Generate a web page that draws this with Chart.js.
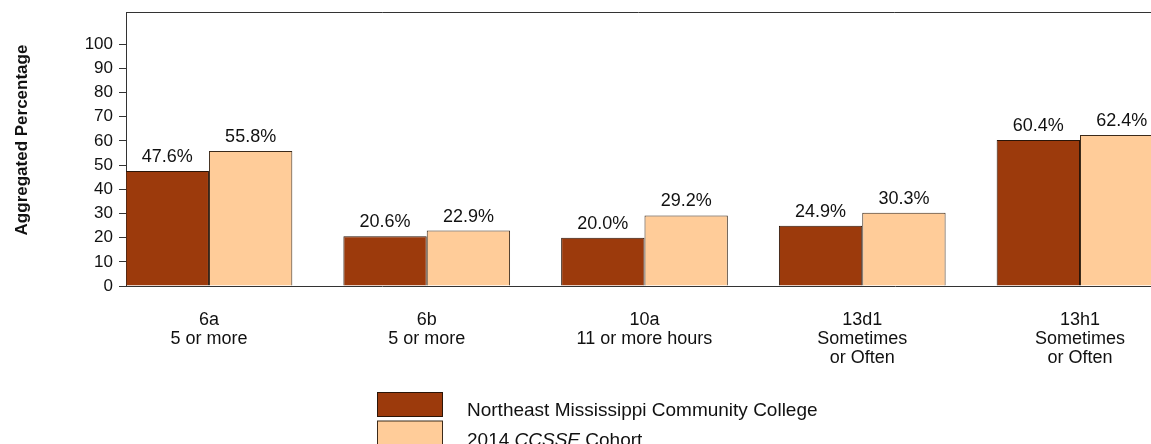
<!DOCTYPE html>
<html>
<head>
<meta charset="utf-8">
<title>Aggregated Percentage</title>
<script src="https://cdn.jsdelivr.net/npm/chart.js@4/dist/chart.umd.min.js"></script>
<style>
    html, body { margin: 0; padding: 0; background: #fff; overflow: hidden; }
    #wrap { width: 1151px; height: 444px; }
</style>
</head>
<body>
<div id="wrap"><canvas id="barChart" width="1151" height="444"></canvas></div>
<script>
// Chart data
const categories = [
    ['6a', '5 or more'],
    ['6b', '5 or more'],
    ['10a', '11 or more hours'],
    ['13d1', 'Sometimes', 'or Often'],
    ['13h1', 'Sometimes', 'or Often']
];
const collegeValues = [47.6, 20.6, 20.0, 24.9, 60.4];
const cohortValues = [55.8, 22.9, 29.2, 30.3, 62.4];
const yTicks = [0, 10, 20, 30, 40, 50, 60, 70, 80, 90, 100];
const collegeLabel = 'Northeast Mississippi Community College';
const cohortLabel = ['2014 ', 'CCSSE', ' Cohort']; // middle part is italic
const yTitle = 'Aggregated Percentage';

const FONT = 'Arial, "Liberation Sans", Helvetica, sans-serif';
const AXIS = '#333';

function toPoints(values) {
    return values.map((v, i) => ({ x: i, y: v }));
}

// Percent labels above each bar
const valueLabels = {
    id: 'valueLabels',
    afterDatasetsDraw(chart) {
        const ctx = chart.ctx;
        ctx.save();
        ctx.font = '18px ' + FONT;
        ctx.fillStyle = '#111';
        ctx.textAlign = 'center';
        ctx.textBaseline = 'alphabetic';
        chart.data.datasets.forEach((ds, di) => {
            chart.getDatasetMeta(di).data.forEach((bar, i) => {
                ctx.fillText(ds.data[i].y.toFixed(1) + '%', bar.x, bar.y - 9);
            });
        });
        ctx.restore();
    }
};

// Top frame line, rotated title and the stacked legend
const frameAndLegend = {
    id: 'frameAndLegend',
    afterDraw(chart) {
        const ctx = chart.ctx;
        const area = chart.chartArea;
        ctx.save();

        ctx.strokeStyle = AXIS;
        ctx.lineWidth = 1;
        ctx.beginPath();
        ctx.moveTo(area.left, Math.round(area.top) + 0.5);
        ctx.lineTo(chart.width, Math.round(area.top) + 0.5);
        ctx.stroke();

        ctx.fillStyle = '#111';
        ctx.font = 'bold 17px ' + FONT;
        ctx.translate(27, 140);
        ctx.rotate(-Math.PI / 2);
        ctx.textAlign = 'center';
        ctx.textBaseline = 'alphabetic';
        ctx.fillText(yTitle, 0, 0);
        ctx.setTransform(1, 0, 0, 1, 0, 0);

        const ds = chart.data.datasets;
        const boxX = 377.5, boxW = 65, boxH = 24;
        const boxY = [392.5, 421];
        const textX = 467;
        const textY = [416, 446];
        ds.forEach((d, i) => {
            ctx.fillStyle = d.backgroundColor;
            ctx.fillRect(boxX, boxY[i], boxW, boxH);
            ctx.strokeStyle = d.borderColor;
            ctx.strokeRect(boxX, boxY[i], boxW, boxH);
        });

        ctx.fillStyle = '#111';
        ctx.textAlign = 'left';
        ctx.font = '19px ' + FONT;
        ctx.fillText(collegeLabel, textX, textY[0]);

        let x = textX;
        cohortLabel.forEach((part, i) => {
            ctx.font = (i === 1 ? 'italic ' : '') + '19px ' + FONT;
            ctx.fillText(part, x, textY[1]);
            x += ctx.measureText(part).width;
        });
        ctx.restore();
    }
};

const ctx = document.getElementById('barChart').getContext('2d');
const barChart = new Chart(ctx, {
    type: 'bar',
    data: {
        datasets: [{
            label: collegeLabel,
            data: toPoints(collegeValues),
            backgroundColor: '#9c3a0c',
            borderColor: '#2b1508',
            borderWidth: 1
        }, {
            label: cohortLabel.join(''),
            data: toPoints(cohortValues),
            backgroundColor: '#ffcc99',
            borderColor: '#3b2a1a',
            borderWidth: 1
        }]
    },
    options: {
        responsive: false,
        animation: false,
        layout: { padding: { top: 12, left: 0, right: 0, bottom: 0 } },
        categoryPercentage: 0.7655,
        barPercentage: 1.0,
        plugins: {
            legend: { display: false },
            tooltip: { enabled: false }
        },
        scales: {
            x: {
                type: 'linear',
                offset: false,
                min: -0.381,
                max: 4.326,
                grid: { display: false },
                border: { display: true, color: AXIS, width: 1 },
                afterBuildTicks: (scale) => {
                    scale.ticks = categories.map((c, i) => ({ value: i }));
                },
                afterFit: (scale) => {
                    scale.height = 158;
                    scale.paddingLeft = 0;
                    scale.paddingRight = 0;
                },
                ticks: {
                    autoSkip: false,
                    maxRotation: 0,
                    padding: 17,
                    color: '#111',
                    font: { family: FONT, size: 18, lineHeight: 1.04 },
                    callback: (value) => categories[value]
                }
            },
            y: {
                min: 0,
                max: 113.3,
                grid: {
                    drawOnChartArea: false,
                    drawTicks: true,
                    tickLength: 7,
                    color: AXIS
                },
                border: { display: true, color: AXIS, width: 1 },
                afterBuildTicks: (scale) => {
                    scale.ticks = yTicks.map(v => ({ value: v }));
                },
                afterFit: (scale) => {
                    scale.width = 126;
                    scale.paddingTop = 0;
                    scale.paddingBottom = 0;
                },
                ticks: {
                    padding: 6,
                    color: '#111',
                    font: { family: FONT, size: 17 }
                }
            }
        }
    },
    plugins: [valueLabels, frameAndLegend]
});
</script>
</body>
</html>
